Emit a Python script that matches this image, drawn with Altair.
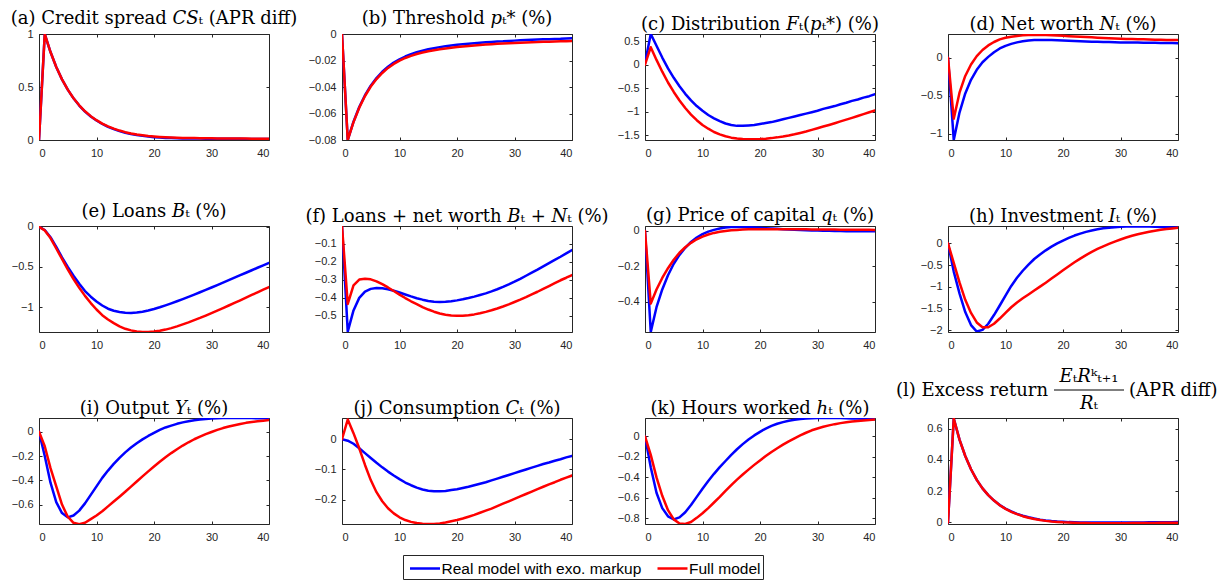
import altair as alt
import pandas as pd

T = list(range(41))
X_TICKS = [0, 10, 20, 30, 40]
REAL = "Real model with exo. markup"
FULL = "Full model"
SERIF = "DejaVu Serif"
SANS = "Liberation Sans"
INK = "#262626"
TFS = 18  # title font size

# (a) Credit spread
cs_real = [0, 1.0, 0.83, 0.689, 0.572, 0.475, 0.393, 0.325, 0.268, 0.222, 0.184, 0.151, 0.124, 0.102, 0.084, 0.069, 0.057, 0.047, 0.039, 0.032, 0.027, 0.023, 0.02, 0.018, 0.016, 0.015, 0.014, 0.013, 0.013, 0.012, 0.012, 0.012, 0.011, 0.011, 0.011, 0.011, 0.01, 0.01, 0.01, 0.01, 0.01]
cs_full = [0, 1.0, 0.83, 0.689, 0.572, 0.475, 0.394, 0.327, 0.271, 0.225, 0.187, 0.155, 0.129, 0.107, 0.089, 0.074, 0.062, 0.052, 0.044, 0.037, 0.032, 0.028, 0.025, 0.023, 0.021, 0.02, 0.019, 0.018, 0.017, 0.016, 0.016, 0.015, 0.015, 0.014, 0.014, 0.013, 0.013, 0.012, 0.012, 0.011, 0.011]
# (b) Threshold
thr_real = [0, -0.080, -0.0662, -0.0551, -0.0462, -0.0390, -0.0332, -0.0285, -0.0247, -0.0216, -0.0191, -0.0170, -0.0153, -0.0138, -0.0126, -0.0115, -0.0107, -0.0099, -0.0093, -0.0087, -0.0082, -0.0077, -0.0073, -0.0069, -0.0066, -0.0063, -0.0060, -0.0057, -0.0055, -0.0052, -0.0050, -0.0048, -0.0046, -0.0044, -0.0042, -0.0040, -0.0039, -0.0037, -0.0036, -0.0034, -0.0033]
thr_full = [0, -0.080, -0.0665, -0.0556, -0.0468, -0.0397, -0.0340, -0.0294, -0.0256, -0.0226, -0.0201, -0.0181, -0.0165, -0.0151, -0.0140, -0.0130, -0.0122, -0.0115, -0.0109, -0.0103, -0.0098, -0.0094, -0.0090, -0.0086, -0.0083, -0.0080, -0.0077, -0.0074, -0.0072, -0.0070, -0.0068, -0.0066, -0.0064, -0.0062, -0.0061, -0.0059, -0.0058, -0.0056, -0.0055, -0.0054, -0.0053]
# (c) Distribution
dist_real = [0.03, 0.65, 0.40, 0.15, -0.08, -0.28, -0.46, -0.62, -0.76, -0.88, -0.98, -1.07, -1.14, -1.20, -1.25, -1.28, -1.30, -1.30, -1.29, -1.28, -1.26, -1.24, -1.22, -1.19, -1.16, -1.13, -1.10, -1.07, -1.04, -1.01, -0.98, -0.94, -0.91, -0.88, -0.84, -0.81, -0.77, -0.74, -0.70, -0.67, -0.63]
dist_full = [0.0, 0.37, 0.10, -0.15, -0.38, -0.58, -0.76, -0.92, -1.06, -1.18, -1.28, -1.36, -1.43, -1.48, -1.52, -1.55, -1.57, -1.58, -1.585, -1.585, -1.58, -1.572, -1.56, -1.544, -1.525, -1.503, -1.478, -1.45, -1.42, -1.386, -1.35, -1.315, -1.28, -1.243, -1.205, -1.168, -1.13, -1.09, -1.05, -1.01, -0.97]
# (d) Net worth
nw_real = [0, -1.08, -0.72, -0.47, -0.29, -0.16, -0.06, 0.01, 0.07, 0.12, 0.155, 0.18, 0.20, 0.215, 0.225, 0.23, 0.232, 0.232, 0.23, 0.228, 0.225, 0.222, 0.219, 0.216, 0.213, 0.21, 0.208, 0.206, 0.204, 0.202, 0.20, 0.199, 0.198, 0.197, 0.196, 0.195, 0.194, 0.193, 0.192, 0.191, 0.19]
nw_full = [0, -0.80, -0.46, -0.24, -0.09, 0.02, 0.10, 0.16, 0.205, 0.24, 0.26, 0.275, 0.285, 0.292, 0.296, 0.298, 0.298, 0.296, 0.293, 0.29, 0.286, 0.282, 0.278, 0.274, 0.27, 0.266, 0.262, 0.258, 0.255, 0.252, 0.249, 0.246, 0.244, 0.242, 0.24, 0.238, 0.236, 0.234, 0.232, 0.231, 0.23]
# (e) Loans
ln_real = [0, -0.04, -0.13, -0.25, -0.38, -0.50, -0.61, -0.71, -0.80, -0.87, -0.93, -0.98, -1.02, -1.045, -1.06, -1.07, -1.072, -1.068, -1.058, -1.043, -1.024, -1.002, -0.978, -0.953, -0.927, -0.90, -0.872, -0.844, -0.815, -0.786, -0.756, -0.726, -0.696, -0.665, -0.634, -0.603, -0.572, -0.541, -0.51, -0.48, -0.45]
ln_full = [0, -0.045, -0.14, -0.27, -0.40, -0.53, -0.65, -0.76, -0.86, -0.95, -1.03, -1.10, -1.155, -1.20, -1.24, -1.27, -1.29, -1.303, -1.31, -1.31, -1.305, -1.295, -1.28, -1.262, -1.24, -1.215, -1.19, -1.163, -1.135, -1.105, -1.075, -1.044, -1.012, -0.98, -0.948, -0.915, -0.882, -0.849, -0.816, -0.783, -0.75]
# (f) Loans + net worth
lnw_real = [0, -0.588, -0.47, -0.40, -0.365, -0.35, -0.345, -0.346, -0.352, -0.36, -0.37, -0.381, -0.392, -0.402, -0.41, -0.417, -0.421, -0.423, -0.422, -0.419, -0.414, -0.408, -0.401, -0.393, -0.384, -0.375, -0.364, -0.352, -0.339, -0.325, -0.31, -0.294, -0.277, -0.26, -0.243, -0.225, -0.207, -0.189, -0.171, -0.152, -0.134]
lnw_full = [0, -0.434, -0.33, -0.298, -0.293, -0.297, -0.308, -0.324, -0.342, -0.362, -0.382, -0.401, -0.419, -0.435, -0.451, -0.465, -0.477, -0.487, -0.494, -0.498, -0.50, -0.50, -0.497, -0.492, -0.486, -0.478, -0.469, -0.459, -0.448, -0.436, -0.423, -0.41, -0.396, -0.381, -0.366, -0.35, -0.334, -0.318, -0.302, -0.288, -0.273]
# (g) Price of capital
q_real = [0, -0.57, -0.43, -0.33, -0.25, -0.185, -0.135, -0.095, -0.062, -0.037, -0.018, -0.004, 0.006, 0.014, 0.019, 0.022, 0.023, 0.023, 0.022, 0.02, 0.018, 0.016, 0.014, 0.012, 0.01, 0.008, 0.007, 0.005, 0.004, 0.003, 0.002, 0.001, 0.0005, 0.0, -0.0005, -0.001, -0.001, -0.0015, -0.0015, -0.002, -0.002]
q_full = [0, -0.41, -0.33, -0.265, -0.21, -0.162, -0.123, -0.092, -0.067, -0.047, -0.032, -0.02, -0.011, -0.004, 0.0, 0.004, 0.006, 0.008, 0.009, 0.01, 0.01, 0.01, 0.01, 0.01, 0.01, 0.0095, 0.0095, 0.009, 0.009, 0.0088, 0.0085, 0.0083, 0.008, 0.0078, 0.0075, 0.0073, 0.007, 0.0068, 0.0065, 0.0063, 0.006]
# (h) Investment
inv_real = [0, -0.65, -1.15, -1.58, -1.88, -2.03, -1.99, -1.85, -1.65, -1.43, -1.2, -0.98, -0.79, -0.63, -0.49, -0.36, -0.255, -0.16, -0.075, 0.0, 0.065, 0.125, 0.18, 0.225, 0.265, 0.298, 0.325, 0.346, 0.362, 0.373, 0.381, 0.386, 0.389, 0.39, 0.389, 0.386, 0.382, 0.378, 0.373, 0.368, 0.363]
inv_full = [0, -0.45, -0.9, -1.3, -1.6, -1.82, -1.93, -1.93, -1.85, -1.73, -1.6, -1.47, -1.36, -1.265, -1.175, -1.085, -0.995, -0.905, -0.81, -0.715, -0.62, -0.525, -0.435, -0.35, -0.27, -0.195, -0.128, -0.067, -0.012, 0.04, 0.09, 0.135, 0.175, 0.21, 0.24, 0.268, 0.292, 0.313, 0.33, 0.345, 0.358]
# (i) Output
y_real = [0, -0.2, -0.42, -0.58, -0.67, -0.705, -0.69, -0.65, -0.59, -0.52, -0.45, -0.38, -0.32, -0.265, -0.215, -0.17, -0.13, -0.095, -0.063, -0.035, -0.01, 0.015, 0.035, 0.05, 0.065, 0.077, 0.087, 0.095, 0.1, 0.105, 0.108, 0.11, 0.112, 0.113, 0.113, 0.113, 0.112, 0.112, 0.111, 0.11, 0.11]
y_full = [0, -0.12, -0.3, -0.45, -0.6, -0.70, -0.75, -0.762, -0.75, -0.72, -0.69, -0.655, -0.615, -0.575, -0.535, -0.494, -0.452, -0.41, -0.368, -0.327, -0.287, -0.248, -0.211, -0.176, -0.144, -0.114, -0.087, -0.062, -0.04, -0.02, -0.002, 0.015, 0.03, 0.043, 0.054, 0.064, 0.073, 0.08, 0.086, 0.091, 0.096]
# (j) Consumption
c_real = [0, -0.005, -0.015, -0.03, -0.046, -0.062, -0.078, -0.093, -0.107, -0.12, -0.132, -0.143, -0.152, -0.16, -0.166, -0.17, -0.172, -0.172, -0.171, -0.168, -0.165, -0.161, -0.157, -0.152, -0.147, -0.142, -0.136, -0.13, -0.124, -0.118, -0.112, -0.106, -0.1, -0.094, -0.088, -0.082, -0.077, -0.071, -0.066, -0.06, -0.055]
c_full = [0, 0.065, 0.02, -0.03, -0.085, -0.135, -0.175, -0.205, -0.228, -0.245, -0.258, -0.267, -0.273, -0.277, -0.279, -0.28, -0.28, -0.278, -0.275, -0.271, -0.267, -0.262, -0.256, -0.25, -0.243, -0.236, -0.229, -0.221, -0.213, -0.205, -0.197, -0.189, -0.181, -0.173, -0.165, -0.157, -0.149, -0.142, -0.134, -0.127, -0.12]
# (k) Hours worked
h_real = [0, -0.3, -0.55, -0.7, -0.78, -0.81, -0.79, -0.74, -0.67, -0.59, -0.51, -0.435, -0.365, -0.3, -0.24, -0.18, -0.125, -0.075, -0.03, 0.01, 0.045, 0.077, 0.103, 0.124, 0.14, 0.153, 0.162, 0.17, 0.175, 0.178, 0.18, 0.181, 0.181, 0.18, 0.179, 0.178, 0.176, 0.174, 0.172, 0.17, 0.167]
h_full = [0, -0.18, -0.4, -0.58, -0.72, -0.81, -0.85, -0.855, -0.835, -0.795, -0.75, -0.7, -0.645, -0.59, -0.532, -0.476, -0.422, -0.372, -0.324, -0.278, -0.234, -0.192, -0.152, -0.115, -0.08, -0.048, -0.018, 0.01, 0.036, 0.06, 0.078, 0.094, 0.108, 0.12, 0.13, 0.138, 0.145, 0.151, 0.156, 0.161, 0.165]
# (l) Excess return
er_real = [0, 0.665, 0.53, 0.425, 0.34, 0.272, 0.218, 0.175, 0.14, 0.111, 0.088, 0.07, 0.055, 0.043, 0.033, 0.025, 0.018, 0.013, 0.009, 0.006, 0.004, 0.002, 0.001, 0.0, -0.0005, -0.001, -0.001, -0.001, -0.001, -0.001, -0.0008, -0.0005, -0.0003, 0.0, 0.0003, 0.0006, 0.0009, 0.0012, 0.0015, 0.0018, 0.002]
er_full = [0, 0.665, 0.53, 0.425, 0.34, 0.272, 0.218, 0.175, 0.14, 0.11, 0.087, 0.068, 0.053, 0.04, 0.03, 0.022, 0.015, 0.01, 0.006, 0.003, 0.0005, -0.001, -0.0025, -0.0035, -0.004, -0.0045, -0.005, -0.005, -0.005, -0.005, -0.0048, -0.0045, -0.0042, -0.004, -0.0037, -0.0033, -0.003, -0.0027, -0.0024, -0.002, -0.0018]

TITLES = [
    "(a) Credit spread 𝐶𝑆ₜ (APR diff)",
    "(b) Threshold 𝑝ₜ* (%)",
    "(c) Distribution 𝐹ₜ(𝑝ₜ*) (%)",
    "(d) Net worth 𝑁ₜ (%)",
    "(e) Loans 𝐵ₜ (%)",
    "(f) Loans + net worth 𝐵ₜ + 𝑁ₜ (%)",
    "(g) Price of capital 𝑞ₜ (%)",
    "(h) Investment 𝐼ₜ (%)",
    "(i) Output 𝑌ₜ (%)",
    "(j) Consumption 𝐶ₜ (%)",
    "(k) Hours worked ℎₜ (%)",
    None,
]
L_LEFT = "(l) Excess return"
L_NUM = "𝐸ₜ𝑅ᵏₜ₊₁"
L_DEN = "𝑅ₜ"
L_RIGHT = "(APR diff)"

Y_DOMAINS = [
    [0, 1], [-0.08, 0], [-1.6, 0.65], [-1.08, 0.31],
    [-1.31, 0.01], [-0.59, 0.0], [-0.57, 0.028], [-2.04, 0.40],
    [-0.76, 0.113], [-0.28, 0.07], [-0.855, 0.18], [-0.01, 0.668],
]
Y_TICKS = [
    [0, 0.5, 1], [-0.08, -0.06, -0.04, -0.02, 0], [-1.5, -1, -0.5, 0, 0.5], [-1, -0.5, 0],
    [-1, -0.5, 0], [-0.5, -0.4, -0.3, -0.2, -0.1], [-0.4, -0.2, 0], [-2, -1.5, -1, -0.5, 0],
    [-0.6, -0.4, -0.2, 0], [-0.2, -0.1, 0], [-0.8, -0.6, -0.4, -0.2, 0], [0, 0.2, 0.4, 0.6],
]
REAL_SERIES = [cs_real, thr_real, dist_real, nw_real, ln_real, lnw_real, q_real, inv_real, y_real, c_real, h_real, er_real]
FULL_SERIES = [cs_full, thr_full, dist_full, nw_full, ln_full, lnw_full, q_full, inv_full, y_full, c_full, h_full, er_full]

W, H = 230, 106

color_scale = alt.Scale(domain=[REAL, FULL], range=["#0000ff", "#ff0000"])
legend = alt.Legend(
    title=None, orient="none", legendX=364, legendY=521, direction="horizontal",
    symbolType="M-1.5,0H1.5", symbolSize=400, symbolStrokeWidth=2.5,
    symbolOffset=8.5, labelOffset=5,
    labelFont=SANS, labelFontSize=15.5, labelColor="#000000", labelLimit=400,
    strokeColor=INK, fillColor="#ffffff", padding=2, columnPadding=10.5,
)


def text_layer(txt, x, y, align):
    return alt.Chart(alt.Data(values=[{}])).mark_text(
        text=txt, align=align, baseline="middle", font=SERIF, fontSize=TFS, color="#000000"
    ).encode(x=alt.value(x), y=alt.value(y))


def make_panel(i):
    real, full = REAL_SERIES[i], FULL_SERIES[i]
    df = pd.DataFrame({"t": T + T, "v": real + full, "s": [REAL] * 41 + [FULL] * 41})
    xsc = alt.Scale(domain=[0, 40], nice=False, zero=False)
    ysc = alt.Scale(domain=Y_DOMAINS[i], nice=False, zero=False)
    color = alt.Color("s:N", scale=color_scale, legend=legend)
    base = alt.Chart(df)
    line_kw = dict(strokeWidth=2.5, clip=True, strokeJoin="round", strokeCap="round")
    blue = base.transform_filter(alt.datum.s == REAL).mark_line(**line_kw).encode(
        x=alt.X("t:Q", scale=xsc, axis=alt.Axis(orient="bottom", values=X_TICKS, offset=-3, tickSize=3,
                                                labelPadding=7, title=None, format="d")),
        y=alt.Y("v:Q", scale=ysc, axis=alt.Axis(orient="left", values=Y_TICKS[i], offset=-3, tickSize=3,
                                                labelPadding=6, title=None, format="~g")),
        color=color,
    )
    red = base.transform_filter(alt.datum.s == FULL).mark_line(**line_kw).encode(
        x=alt.X("t:Q", scale=xsc, axis=alt.Axis(orient="top", values=X_TICKS, offset=-3, tickSize=3,
                                                labels=False, title=None)),
        y=alt.Y("v:Q", scale=ysc, axis=alt.Axis(orient="right", values=Y_TICKS[i], offset=-3, tickSize=3,
                                                labels=False, title=None)),
        color=color,
    )
    layers = [blue, red]
    if TITLES[i] is None:
        layers += [
            text_layer(L_LEFT, 100, -27, "right"),
            text_layer(L_NUM, 141, -41, "center"),
            text_layer(L_DEN, 141, -14, "center"),
            text_layer(L_RIGHT, 181, -27, "left"),
            alt.Chart(alt.Data(values=[{}])).mark_rule(color="#000000", strokeWidth=1).encode(
                x=alt.value(106), x2=alt.value(176), y=alt.value(-28)),
        ]
    ch = alt.layer(*layers).properties(width=W, height=H)
    if TITLES[i] is not None:
        ch = ch.properties(title=alt.TitleParams(
            text=TITLES[i], font=SERIF, fontSize=TFS, fontWeight="normal",
            color="#000000", anchor="middle", frame="group", offset=0))
    return ch


panels = [make_panel(i) for i in range(12)]

chart = alt.concat(
    *panels, columns=4, spacing={"row": 86, "column": 73}, bounds="flush"
).properties(
    padding={"left": 2, "top": 1, "right": 0, "bottom": 0}
).configure_view(
    stroke=INK, strokeWidth=1
).configure_axis(
    labelFont=SANS, labelFontSize=11, labelColor=INK, tickColor=INK, tickWidth=1,
    domain=False, grid=False,
)

chart.save("out.html", embed_options={"renderer": "svg", "actions": False})
